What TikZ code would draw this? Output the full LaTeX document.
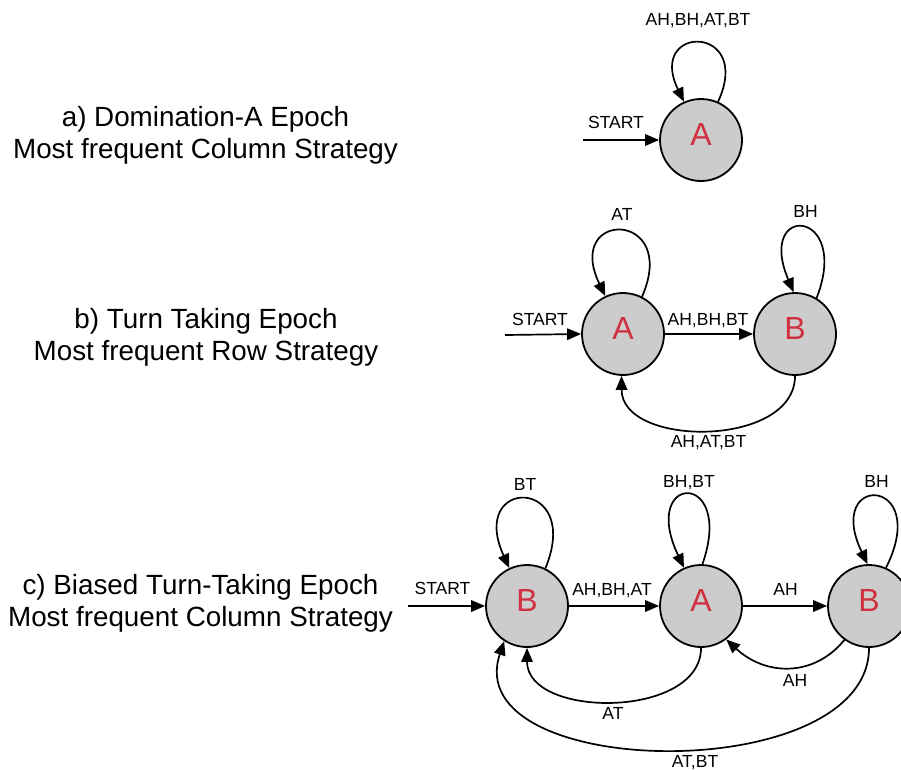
\documentclass[tikz,border=0pt]{standalone}
\usepackage{fontspec}
\setmainfont{Liberation Sans}
\usetikzlibrary{arrows.meta}
\definecolor{stfill}{HTML}{CCCCCC}
\definecolor{stletter}{RGB}{208,48,64}
\begin{document}
\begin{tikzpicture}[x=1pt,y=-1pt,
  st/.style={circle,draw,line width=1.8pt,fill=stfill,minimum size=82pt,inner sep=0pt,
    text=stletter,font=\fontsize{32}{32}\selectfont,text height=23pt,text depth=12pt},
  arr/.style={line width=1.7pt,-{Triangle[length=14pt,width=11.5pt]}},
  lbl/.style={anchor=base,inner sep=0pt,font=\fontsize{17.5}{20}\selectfont},
  ttl/.style={anchor=base,inner sep=0pt,font=\fontsize{27.8}{30}\selectfont}]
\useasboundingbox (0,0) rectangle (901,769);
\clip (0,0) rectangle (901,769);

% ---------- titles ----------
\node[ttl] (ta1) at (205.5,126) {a) Domination-A Epoch};
\node[ttl] (ta2) at (205.5,158) {Most frequent Column Strategy};
\node[ttl] (tb1) at (206,328) {b) Turn Taking Epoch};
\node[ttl] (tb2) at (206,360) {Most frequent Row Strategy};
\node[ttl] (tc1) at (200.5,594) {c) Biased Turn-Taking Epoch};
\node[ttl] (tc2) at (200.5,626) {Most frequent Column Strategy};

% ---------- a) ----------
\node[st] (aa) at (701,140) {A};
\coordinate (as) at (583,140);
\draw[arr] (as) -- (aa.180);
\node[lbl] (aslbl) at (616,128) {START};
\draw[arr] (aa.66) .. controls +(36,-78) and +(-38,-78) .. (aa.114);
\node[lbl] (aalbl) at (698,25) {AH,BH,AT,BT};

% ---------- b) ----------
\node[st] (ba) at (623,334) {A};
\node[st] (bb) at (795,334) {B};
\coordinate (bs) at (505,335);
\draw[arr] (bs) -- (ba.180);
\node[lbl] (bslbl) at (540,325) {START};
\draw[arr] (ba.63) .. controls +(38,-87) and +(-42,-87) .. (ba.115);
\node[lbl] (balbl) at (622,220) {AT};
\draw[arr] (bb.59) .. controls +(35,-90) and +(-38,-90) .. (bb.92);
\node[lbl] (bblbl) at (805.5,217) {BH};
\draw[arr] (ba) -- (bb);
\node[lbl] (babblbl) at (708,325) {AH,BH,BT};
\draw[arr] (bb.270) .. controls +(0,72) and +(0,72) .. (ba.268);
\node[lbl] (bbbalbl) at (708.5,447) {AH,AT,BT};

% ---------- c) ----------
\node[st] (cb1) at (527,606) {B};
\node[st] (ca) at (701,606) {A};
\node[st] (cb2) at (869,606) {B};
\coordinate (cs) at (408,606);
\draw[arr] (cs) -- (cb1.180);
\node[lbl] (cslbl) at (442.5,594) {START};
\draw[arr] (cb1.64) .. controls +(38,-92) and +(-42,-92) .. (cb1.115);
\node[lbl] (cb1lbl) at (525,490) {BT};
\draw[arr] (ca.88) .. controls +(33,-95) and +(-45,-95) .. (ca.114);
\node[lbl] (calbl) at (689,487) {BH,BT};
\draw[arr] (cb2.66) .. controls +(46,-92) and +(-44,-92) .. (cb2.92);
\node[lbl] (cb2lbl) at (876.5,487) {BH};
\draw[arr] (cb1) -- (ca);
\node[lbl] (cb1calbl) at (612,595) {AH,BH,AT};
\draw[arr] (ca) -- (cb2);
\node[lbl] (cacb2lbl) at (785.5,595) {AH};
\draw[arr] (cb2.234) .. controls +(-30,37) and +(40,37) .. (ca.307);
\node[lbl] (cb2calbl) at (795,686) {AH};
\draw[arr] (ca.270) .. controls +(0,71) and +(0,71) .. (cb1.270);
\node[lbl] (cacb1lbl) at (613,719) {AT};
\draw[arr] (cb2.270) .. controls +(0,140) and +(-47,140) .. (cb1.237);
\node[lbl] (cb2cb1lbl) at (695,767) {AT,BT};
\end{tikzpicture}
\end{document}
